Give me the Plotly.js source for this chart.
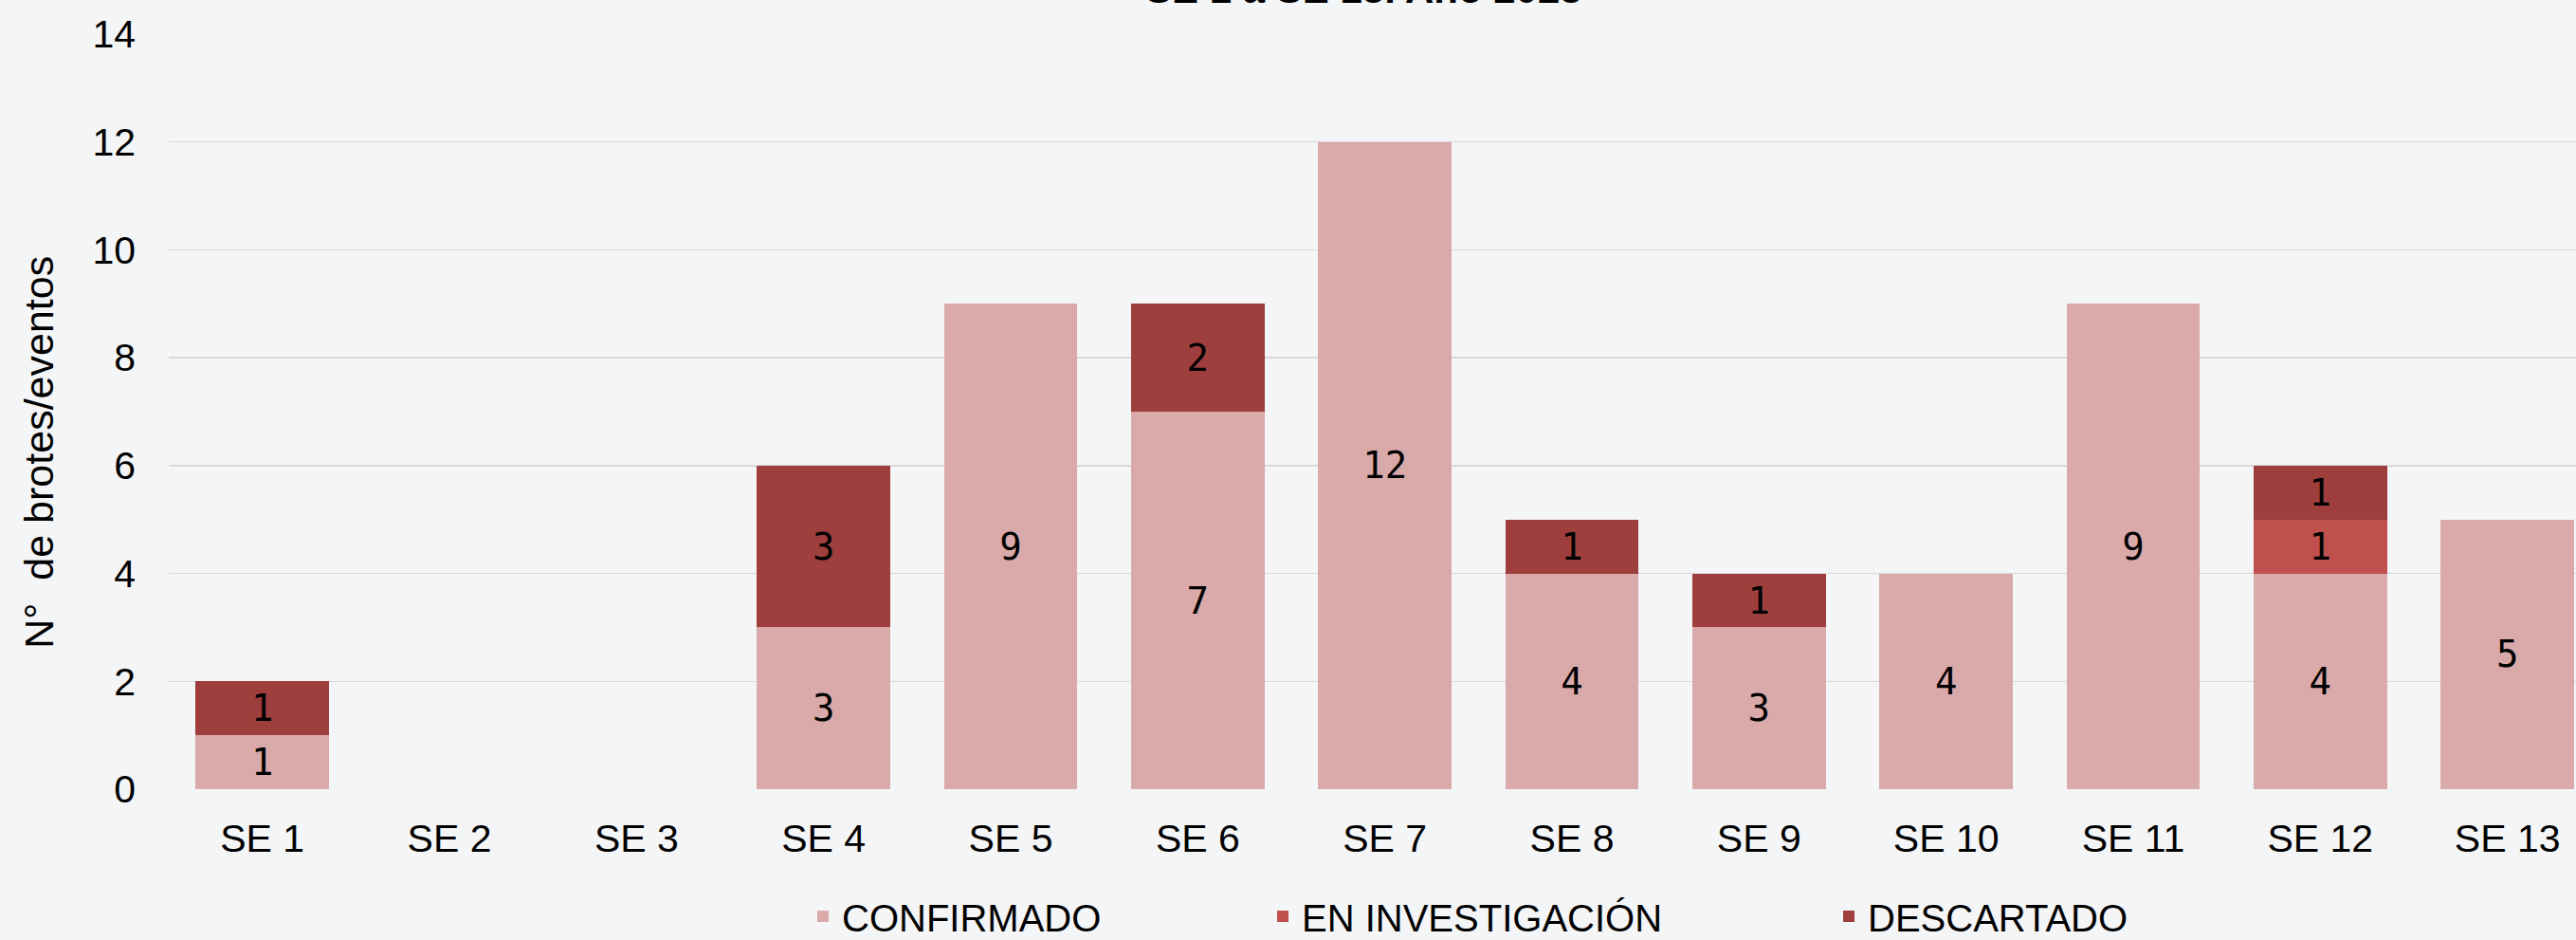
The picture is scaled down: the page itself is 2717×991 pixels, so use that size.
<!DOCTYPE html>
<html><head><meta charset="utf-8">
<script src="https://cdn.plot.ly/plotly-3.0.1.min.js"></script>
<style>html,body{margin:0;padding:0;background:#F4F5F7;} #chart{width:2717px;height:991px;}</style>
</head><body><div id="chart"></div><script>
const categories = ['SE 1','SE 2','SE 3','SE 4','SE 5','SE 6','SE 7','SE 8','SE 9','SE 10','SE 11','SE 12','SE 13'];
const confirmado = [1,0,0,3,9,7,12,4,3,4,9,4,5];
const enInvestigacion = [0,0,0,0,0,0,0,0,0,0,0,1,0];
const descartado = [1,0,0,3,0,2,0,1,1,0,0,1,0];
const seriesNames = ['CONFIRMADO','EN INVESTIGACIÓN','DESCARTADO'];
const seriesColors = ['#DAAAAA','#C0504D','#9E3F3E'];
const yTicks = [0,2,4,6,8,10,12,14];
const chartTitle = 'SE 1 a SE 13. Año 2023';
const yTitle = 'N°\u00a0 de brotes/eventos';

const W = 2717, H = 991;
const mL = 178.4, mR = 0, mT = 35.5, mB = 159;
const plotW = W - mL - mR, plotH = H - mT - mB;
const slot = 197.3;
const xMax = -0.5 + plotW / slot;

const baseFont = "'Liberation Sans', Arial, sans-serif";
const labelFont = {family: "'DejaVu Sans Mono', monospace", size: 39, color: '#000000'};

const seriesValues = [confirmado, enInvestigacion, descartado];
const legendIds = ['legend','legend2','legend3'];
const traces = seriesValues.map((vals, i) => ({
  type: 'bar',
  name: seriesNames[i],
  x: categories,
  y: vals,
  text: vals.map(v => v ? String(v) : ''),
  textposition: 'inside',
  insidetextanchor: 'middle',
  textangle: 0,
  constraintext: 'none',
  textfont: labelFont,
  insidetextfont: labelFont,
  marker: {color: seriesColors[i], line: {width: 0}},
  hoverinfo: 'none',
  legend: legendIds[i]
}));

function px2cx(p){ return p / W; }
function py2cy(p){ return 1 - p / H; }
const swatchCenters = [873, 1358, 1955];
const legendCommon = {
  orientation: 'h', xref: 'container', yref: 'container',
  xanchor: 'left', yanchor: 'middle',
  font: {family: baseFont, size: 40, color: '#000000'},
  bgcolor: 'rgba(0,0,0,0)', borderwidth: 0
};
const legendY = py2cy(966);

const layout = {
  width: W, height: H,
  margin: {l: mL, r: mR, t: mT, b: mB, pad: 0},
  paper_bgcolor: '#F4F5F7', plot_bgcolor: '#F4F5F7',
  barmode: 'stack', bargap: 0.287,
  showlegend: true,
  legend: Object.assign({}, legendCommon, {x: px2cx(swatchCenters[0] - 25), y: legendY}),
  legend2: Object.assign({}, legendCommon, {x: px2cx(swatchCenters[1] - 25), y: legendY}),
  legend3: Object.assign({}, legendCommon, {x: px2cx(swatchCenters[2] - 25), y: legendY}),
  xaxis: {
    type: 'category', range: [-0.5, xMax], ticks: '', showgrid: false,
    showline: false, zeroline: false,
    tickfont: {family: baseFont, size: 41, color: '#000000'},
    ticklabelstandoff: 24
  },
  yaxis: {
    range: [0, 14], tickvals: yTicks, ticktext: yTicks.map(String), ticks: '',
    showgrid: true, gridcolor: '#D9D9D9', gridwidth: 1.5,
    zeroline: false, showline: false,
    tickfont: {family: baseFont, size: 41, color: '#000000'},
    ticklabelstandoff: 34
  },
  annotations: [
    {text: chartTitle, xref: 'paper', yref: 'paper', x: (1439 - mL) / plotW, y: 1,
     xanchor: 'center', yanchor: 'bottom', yshift: 22, showarrow: false,
     font: {family: baseFont, size: 42, color: '#000000', weight: 'bold'}},
    {text: yTitle, xref: 'paper', yref: 'paper', x: (42 - mL) / plotW, y: (832 - 477) / plotH,
     xanchor: 'center', yanchor: 'middle', textangle: -90, showarrow: false,
     font: {family: baseFont, size: 43, color: '#000000'}}
  ]
};

Plotly.newPlot('chart', traces, layout, {displayModeBar: false, staticPlot: true});
</script></body></html>
